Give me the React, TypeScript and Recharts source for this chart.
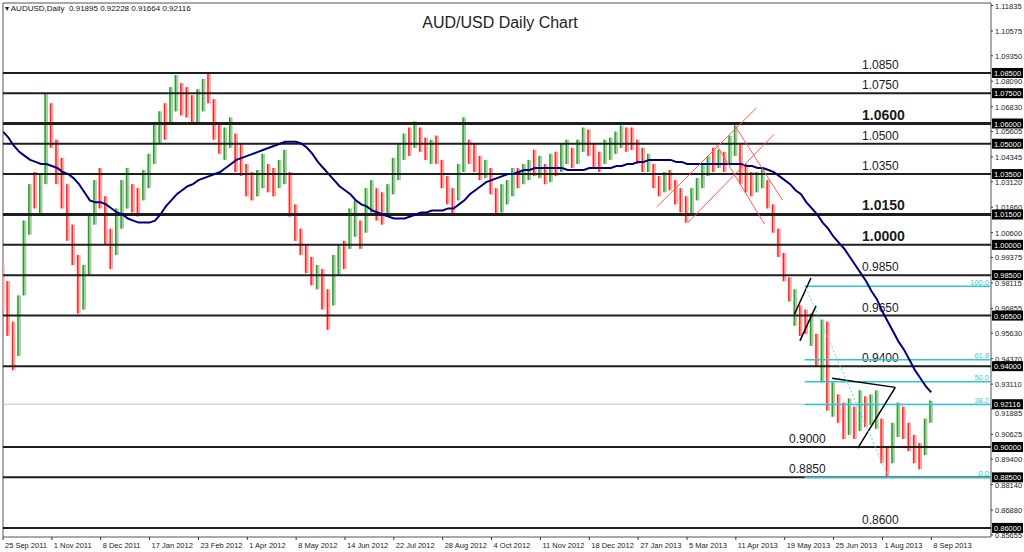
import React from "react";
import { ComposedChart, Bar, Line, XAxis, YAxis, ReferenceLine, ReferenceArea } from "recharts";

const FONT = "'Liberation Sans', Arial, sans-serif";

// x categories: trading-day index, one bar every 3 trading days
const dateLabels = [
  "25 Sep 2011", "1 Nov 2011", "8 Dec 2011", "17 Jan 2012", "23 Feb 2012", "1 Apr 2012",
  "8 May 2012", "14 Jun 2012", "22 Jul 2012", "28 Aug 2012", "4 Oct 2012", "11 Nov 2012",
  "18 Dec 2012", "27 Jan 2013", "5 Mar 2013", "11 Apr 2013", "19 May 2013", "25 Jun 2013",
  "1 Aug 2013", "8 Sep 2013",
];
const dateTickDays = [0, 27, 54, 81, 108, 135, 162, 189, 216, 243, 270, 297, 324, 351, 378, 405, 432, 459, 486, 513];
const barStepDays = 3;

const lows = [
  0.968, 0.955, 0.938, 0.945, 0.975, 1.005, 1.018, 1.015, 1.030, 1.048,
  1.030, 1.018, 1.002, 0.990, 0.966, 0.968, 0.985, 1.010, 1.018, 1.000,
  0.988, 0.995, 1.008, 1.018, 1.016, 1.014, 1.022, 1.028, 1.040, 1.050,
  1.052, 1.060, 1.066, 1.064, 1.063, 1.060, 1.060, 1.066, 1.070, 1.052,
  1.045, 1.042, 1.048, 1.036, 1.034, 1.024, 1.022, 1.024, 1.028, 1.026,
  1.024, 1.028, 1.030, 1.014, 1.002, 0.995, 0.986, 0.980, 0.978, 0.968,
  0.958, 0.970, 0.985, 0.988, 0.998, 1.004, 0.998, 1.006, 1.016, 1.012,
  1.010, 1.014, 1.025, 1.032, 1.042, 1.044, 1.048, 1.046, 1.042, 1.040,
  1.040, 1.028, 1.020, 1.015, 1.022, 1.036, 1.040, 1.036, 1.032, 1.033,
  1.025, 1.015, 1.016, 1.020, 1.024, 1.028, 1.030, 1.032, 1.034, 1.033,
  1.030, 1.031, 1.034, 1.036, 1.040, 1.038, 1.040, 1.046, 1.044, 1.038,
  1.036, 1.040, 1.042, 1.045, 1.048, 1.046, 1.047, 1.040, 1.036, 1.036,
  1.028, 1.024, 1.026, 1.027, 1.020, 1.016, 1.011, 1.015, 1.022, 1.028,
  1.034, 1.036, 1.038, 1.036, 1.040, 1.044, 1.030, 1.026, 1.024, 1.026,
  1.028, 1.018, 1.006, 0.994, 0.982, 0.972, 0.960, 0.955, 0.956, 0.950,
  0.940, 0.932, 0.918, 0.915, 0.912, 0.904, 0.906, 0.904, 0.908, 0.910,
  0.911, 0.909, 0.892, 0.885, 0.892, 0.905, 0.904, 0.898, 0.892, 0.889,
  0.896, 0.912,
];
const highs = [
  0.990, 0.982, 0.962, 0.975, 1.012, 1.030, 1.036, 1.035, 1.075, 1.070,
  1.052, 1.043, 1.030, 1.010, 0.995, 0.990, 1.015, 1.032, 1.038, 1.024,
  1.008, 1.018, 1.032, 1.038, 1.030, 1.028, 1.037, 1.045, 1.060, 1.066,
  1.070, 1.078, 1.084, 1.080, 1.078, 1.074, 1.077, 1.082, 1.085, 1.072,
  1.060, 1.058, 1.063, 1.055, 1.050, 1.040, 1.036, 1.037, 1.045, 1.040,
  1.038, 1.042, 1.047, 1.036, 1.020, 1.008, 1.000, 0.994, 0.990, 0.988,
  0.978, 0.995, 1.000, 1.002, 1.018, 1.022, 1.012, 1.028, 1.032, 1.028,
  1.026, 1.030, 1.043, 1.050, 1.055, 1.058, 1.061, 1.058, 1.053, 1.052,
  1.054, 1.042, 1.034, 1.028, 1.040, 1.063, 1.052, 1.050, 1.044, 1.042,
  1.038, 1.028, 1.030, 1.032, 1.038, 1.038, 1.040, 1.042, 1.047, 1.044,
  1.040, 1.045, 1.046, 1.050, 1.052, 1.048, 1.052, 1.058, 1.057, 1.050,
  1.046, 1.052, 1.053, 1.056, 1.059, 1.058, 1.058, 1.052, 1.048, 1.045,
  1.040, 1.034, 1.036, 1.037, 1.032, 1.028, 1.024, 1.028, 1.033, 1.040,
  1.044, 1.048, 1.047, 1.046, 1.054, 1.059, 1.050, 1.040, 1.036, 1.036,
  1.038, 1.032, 1.020, 1.008, 0.996, 0.984, 0.978, 0.970, 0.968, 0.966,
  0.956, 0.963, 0.962, 0.932, 0.926, 0.922, 0.924, 0.920, 0.928, 0.925,
  0.926, 0.928, 0.914, 0.900, 0.912, 0.922, 0.920, 0.912, 0.906, 0.902,
  0.914, 0.923,
];
const dirs =
  "DDDUUUDUUD" + "DDDDDUUUDD" + "DUUUDDUUUU" + "DUUDDDUUDD" + "DUUDDDDUUD" +
  "DUUDDDDDUD" + "DUUDUUDUUD" + "DUUUUDUDDU" + "DDDDUUDDDU" + "DDUUUDUUDU" +
  "DUDUUDUUDD" + "DUUUUDDDDU" + "DDUDDDDUUU" + "UDUDUUDDDU" + "UDDDDDUDDU" +
  "DUDUDDUDUD" + "UUDDUUDDDD" + "UU";
const ma100 = [
  1.056, 1.053, 1.049, 1.046, 1.044, 1.042, 1.041, 1.040, 1.040, 1.039,
  1.038, 1.036, 1.035, 1.033, 1.030, 1.026, 1.022, 1.021, 1.021, 1.020,
  1.018, 1.016, 1.015, 1.013, 1.012, 1.011, 1.011, 1.011, 1.012, 1.015,
  1.019, 1.022, 1.025, 1.027, 1.029, 1.030, 1.032, 1.033, 1.034, 1.035,
  1.036, 1.038, 1.040, 1.042, 1.043, 1.044, 1.045, 1.046, 1.047, 1.048,
  1.049, 1.050, 1.051, 1.051, 1.051, 1.050, 1.048, 1.045, 1.041, 1.038,
  1.035, 1.032, 1.029, 1.027, 1.025, 1.022, 1.020, 1.019, 1.017, 1.016,
  1.015, 1.014, 1.013, 1.013, 1.013, 1.014, 1.015, 1.016, 1.016, 1.017,
  1.017, 1.017, 1.018, 1.018, 1.020, 1.022, 1.025, 1.027, 1.029, 1.031,
  1.032, 1.033, 1.034, 1.035, 1.035, 1.036, 1.037, 1.037, 1.038, 1.038,
  1.038, 1.038, 1.038, 1.038, 1.037, 1.037, 1.037, 1.037, 1.038, 1.038,
  1.038, 1.038, 1.038, 1.039, 1.039, 1.040, 1.040, 1.041, 1.041, 1.042,
  1.042, 1.042, 1.042, 1.042, 1.041, 1.041, 1.040, 1.040, 1.040, 1.040,
  1.040, 1.040, 1.040, 1.040, 1.040, 1.040, 1.040, 1.039, 1.039, 1.038,
  1.038, 1.037, 1.036, 1.034, 1.032, 1.030, 1.027, 1.025, 1.021, 1.018,
  1.015, 1.011, 1.008, 1.004, 1.001, 0.998, 0.994, 0.990, 0.986, 0.982,
  0.977, 0.973, 0.967, 0.962, 0.957, 0.952, 0.948, 0.943, 0.938, 0.934,
  0.930, 0.927,
];

const priceTicks = [
  1.11835, 1.10575, 1.0935, 1.0809, 1.0683, 1.05605, 1.04345, 1.0312, 1.0186, 1.006, 0.99375,
  0.98115, 0.96855, 0.9563, 0.9437, 0.9311, 0.91885, 0.90625, 0.894, 0.8814, 0.8688, 0.85655,
];
const levelPrices = [1.085, 1.075, 1.06, 1.05, 1.035, 1.015, 1.0, 0.985, 0.965, 0.94, 0.9, 0.885, 0.86];
const levelTexts = ["1.0850", "1.0750", "1.0600", "1.0500", "1.0350", "1.0150", "1.0000", "0.9850", "0.9650", "0.9400", "0.9000", "0.8850", "0.8600"];
const levelWidths = [2, 2, 3, 2, 2, 3, 2, 2, 2, 2, 2, 2, 2];
const levelFont = [12, 12, 14, 12, 12, 14, 14, 12, 12, 12, 12, 12, 12];
const levelHeavy = [false, false, true, false, false, true, true, false, false, false, false, false, false];
const levelLabelX = [859, 859, 859, 859, 859, 859, 859, 859, 859, 859, 786, 786, 859];
const currentPrice = 0.92116;
const boxPrices = [...levelPrices, currentPrice];

const fibPrices = [0.9795, 0.9432, 0.9323, 0.921, 0.885];
const fibTexts = ["100.0", "61.8", "50.0", "38.2", "0.0"];
const fibStartDay = 443;
const xMaxDay = 546;

const redLines = [
  [361.2, 1.0187, 416.4, 1.0677],
  [378.3, 1.0108, 426.3, 1.0548],
  [404.2, 1.0593, 430.7, 1.0222],
  [394.3, 1.0494, 420.8, 1.0103],
];
const blackLines = [
  [437.4, 0.9658, 446.5, 0.9836],
  [440.4, 0.9525, 449.3, 0.9698],
  [458.2, 0.934, 493.1, 0.9295],
  [493.1, 0.9295, 472.4, 0.8995],
];
const dottedLine = [443.8, 0.9787, 489.3, 0.8852];

const yMin = 0.8555;
const yMax = 1.1196;

const data = lows.map((lo, i) => ({
  d: i * barStepDays,
  range: [lo, highs[i]],
  up: dirs[i] === "U",
  ma: ma100[i],
}));

const CandleShape = (props: any) => {
  const { x, y, width, height, payload } = props;
  if (x == null || y == null) return null;
  const cx = x + width / 2;
  const h = Math.max(Math.abs(height), 1);
  const top = height < 0 ? y + height : y;
  const up = payload && payload.up;
  return (
    <g>
      <rect x={cx - 1.8} y={top} width={3.6} height={h} fill={up ? "#9fd39f" : "#ffa3a3"} />
      <rect x={cx - 1.8} y={top} width={1.4} height={h} fill={up ? "#2e9a2e" : "#ff2222"} />
    </g>
  );
};

const XTick = (props: any) => {
  const { x, y, payload } = props;
  const idx = dateTickDays.indexOf(payload.value);
  return (
    <g>
      <line x1={x} x2={x} y1={y} y2={y + 3} stroke="#333" strokeWidth={1} />
      <text x={x + 2} y={y + 11} fontSize={7.5} fontFamily={FONT} fill="#222">
        {idx >= 0 ? dateLabels[idx] : ""}
      </text>
    </g>
  );
};

const YTick = (props: any) => {
  const { x, y, payload } = props;
  const v = payload.value;
  const txt = Number(v).toFixed(5);
  if (boxPrices.includes(v)) {
    return (
      <g>
        <rect x={x + 1} y={y - 5} width={31} height={10} fill="#000" />
        <text x={x + 3} y={y + 3} fontSize={7.5} fontFamily={FONT} fill="#fff">
          {txt}
        </text>
      </g>
    );
  }
  // the tick just under the current-price box is nudged below it
  const nudge = Math.abs(v - currentPrice) < 0.004 ? 4 : 0;
  return (
    <g>
      <line x1={x} x2={x + 2} y1={y} y2={y} stroke="#333" strokeWidth={1} />
      <text x={x + 4} y={y + 3 + nudge} fontSize={7.5} fontFamily={FONT} fill="#222">
        {txt}
      </text>
    </g>
  );
};

const levelLabel = (text: string, dx: number, size: number, heavy: boolean) => (p: any) => {
  const vb = p.viewBox || {};
  return (
    <text
      x={(vb.x || 0) + dx}
      y={(vb.y || 0) - 4}
      fontSize={size}
      fontWeight={heavy ? 600 : 400}
      fontFamily={FONT}
      fill="#1a1a1a"
    >
      {text}
    </text>
  );
};

const fibLabel = (text: string) => (p: any) => {
  const vb = p.viewBox || {};
  return (
    <text x={(vb.x || 0) + (vb.width || 0) - 2} y={(vb.y || 0) - 1.5} fontSize={7.5} fontFamily={FONT} fill="#3ec8d8" textAnchor="end">
      {text}
    </text>
  );
};

export default function App() {
  return (
    <div style={{ position: "absolute", left: 0, top: 0, width: 1024, height: 552, background: "#fff" }}>
      <ComposedChart width={1024} height={552} data={data} margin={{ top: 3, right: 0, bottom: 0, left: 3 }}>
        <XAxis
          dataKey="d"
          type="number"
          domain={[0, xMaxDay]}
          ticks={dateTickDays}
          interval={0}
          tick={<XTick />}
          tickSize={0}
          tickMargin={0}
          axisLine={false}
          tickLine={false}
          height={15}
          allowDataOverflow
        />
        <YAxis
          orientation="right"
          type="number"
          domain={[yMin, yMax]}
          ticks={[...priceTicks, ...boxPrices]}
          interval={0}
          tick={<YTick />}
          tickSize={0}
          tickMargin={0}
          axisLine={false}
          tickLine={false}
          width={33}
          allowDataOverflow
        />
        <ReferenceArea x1={0} x2={xMaxDay} y1={yMin} y2={yMax} fill="none" stroke="#555" strokeWidth={1} />
        <Bar dataKey="range" barSize={3} shape={<CandleShape />} isAnimationActive={false} />
        <ReferenceLine y={currentPrice} stroke="#c4c4c4" strokeWidth={1} />
        {levelPrices.map((v, i) => (
          <ReferenceLine
            key={"lv" + i}
            y={v}
            stroke="#1e1e1e"
            strokeWidth={levelWidths[i]}
            label={levelLabel(levelTexts[i], levelLabelX[i], levelFont[i], levelHeavy[i])}
          />
        ))}
        {fibPrices.map((v, i) => (
          <ReferenceLine
            key={"fib" + i}
            segment={[{ x: fibStartDay, y: v }, { x: xMaxDay, y: v }]}
            stroke="#2cc6d0"
            strokeWidth={1.5}
            label={fibLabel(fibTexts[i])}
          />
        ))}
        <Line dataKey="ma" type="linear" stroke="#00007a" strokeWidth={2} dot={false} isAnimationActive={false} />
        {redLines.map((s, i) => (
          <ReferenceLine
            key={"rl" + i}
            segment={[{ x: s[0], y: s[1] }, { x: s[2], y: s[3] }]}
            stroke="#ff5a5a"
            strokeWidth={1}
          />
        ))}
        {blackLines.map((s, i) => (
          <ReferenceLine
            key={"bl" + i}
            segment={[{ x: s[0], y: s[1] }, { x: s[2], y: s[3] }]}
            stroke="#000"
            strokeWidth={1.5}
          />
        ))}
        <ReferenceLine
          segment={[{ x: dottedLine[0], y: dottedLine[1] }, { x: dottedLine[2], y: dottedLine[3] }]}
          stroke="#5fd8e0"
          strokeWidth={1}
          strokeDasharray="2 2"
        />
      </ComposedChart>
      <div style={{ position: "absolute", left: 5, top: 4, fontSize: 8, fontFamily: FONT, color: "#111", whiteSpace: "pre" }}>
        {"▾ AUDUSD,Daily  0.91895 0.92228 0.91664 0.92116"}
      </div>
      <div style={{ position: "absolute", left: 0, width: 1000, top: 14, textAlign: "center", fontSize: 16, fontFamily: FONT, color: "#222" }}>
        AUD/USD Daily Chart
      </div>
    </div>
  );
}
